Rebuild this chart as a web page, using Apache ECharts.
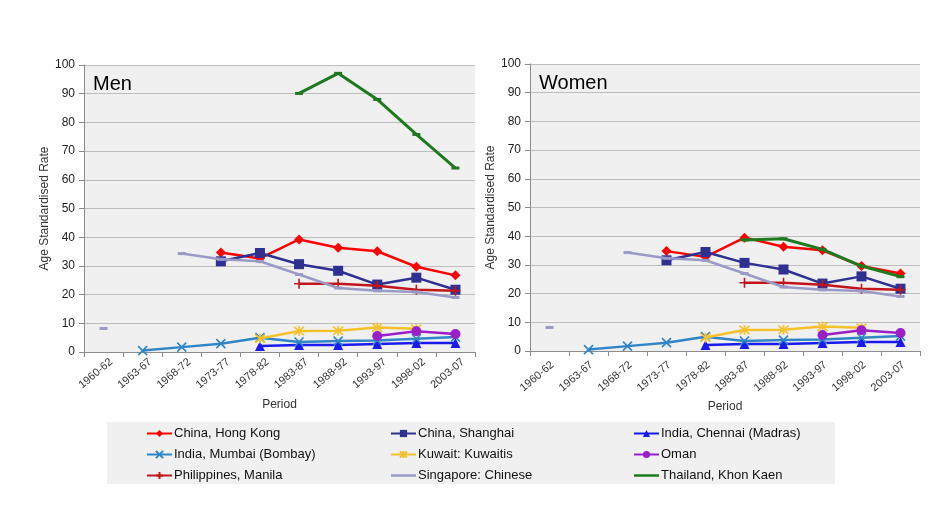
<!DOCTYPE html>
<html>
<head>
<meta charset="utf-8">
<script src="https://cdn.jsdelivr.net/npm/echarts@6/dist/echarts.min.js"></script>
<style>html,body{margin:0;padding:0;background:#fff;}#c{width:951px;height:523px;}</style>
</head>
<body>
<div id="c"></div>
<script>
var periods = ['1960-62','1963-67','1968-72','1973-77','1978-82','1983-87','1988-92','1993-97','1998-02','2003-07'];
var yTicks = [0,10,20,30,40,50,60,70,80,90,100];

// Men
var menHongKong   = [null,null,null,34.7,32.6,39.2,36.3,35.1,29.7,26.7];
var menShanghai   = [null,null,null,31.6,34.5,30.6,28.3,23.5,25.9,21.7];
var menChennai    = [null,null,null,null,2.1,2.4,2.4,2.8,3.1,3.1];
var menMumbai     = [null,0.5,1.7,2.9,5.0,3.5,3.8,4.0,4.6,5.2];
var menKuwait     = [null,null,null,null,4.7,7.3,7.4,8.5,8.1,null];
var menOman       = [null,null,null,null,null,null,null,5.6,7.2,6.3];
var menManila     = [null,null,null,null,null,23.8,23.8,23.1,21.7,21.3];
var menSingapore  = [8.2,null,34.3,32.3,31.6,27.0,22.3,21.3,20.9,19.0];
var menKhonKaen   = [null,null,null,null,null,90.1,97.1,88.0,75.8,64.1];

// Women
var womenHongKong  = [null,null,null,34.8,32.8,39.5,36.3,35.1,29.6,27.0];
var womenShanghai  = [null,null,null,31.6,34.5,30.7,28.4,23.5,26.0,21.7];
var womenChennai   = [null,null,null,null,2.1,2.4,2.4,2.8,3.1,3.1];
var womenMumbai    = [null,0.5,1.7,2.9,5.0,3.5,3.8,4.0,4.6,5.2];
var womenKuwait    = [null,null,null,null,4.7,7.3,7.4,8.5,8.1,null];
var womenOman      = [null,null,null,null,null,null,null,5.6,7.2,6.3];
var womenManila    = [null,null,null,null,null,23.8,23.8,23.1,21.7,21.3];
var womenSingapore = [8.2,null,34.3,32.3,31.6,27.0,22.3,21.3,20.9,19.0];
var womenKhonKaen  = [null,null,null,null,null,38.7,39.1,35.4,29.6,25.9];

var names = ['China, Hong Kong','China, Shanghai','India, Chennai (Madras)','India, Mumbai (Bombay)','Kuwait: Kuwaitis','Oman','Philippines, Manila','Singapore: Chinese','Thailand, Khon Kaen'];

var X = 'path://M0,0L10,10M10,0L0,10';
var STAR = 'path://M0,0L10,10M10,0L0,10M5,-1L5,11';
var PLUS = 'path://M5,0L5,10M0,5L10,5';
var LINEICON = 'path://M0,0L30,0L30,3L0,3Z';

var styles = [
  {color:'#ff0000', symbol:'diamond', size:10, stroke:false},
  {color:'#2e3192', symbol:'rect', size:10, stroke:false},
  {color:'#1a1aee', symbol:'triangle', size:10, stroke:false},
  {color:'#2f85c6', symbol:X, size:9, stroke:true},
  {color:'#f5c12a', symbol:STAR, size:10, stroke:true},
  {color:'#9b1fc8', symbol:'circle', size:10, stroke:false},
  {color:'#c0161c', symbol:PLUS, size:10, stroke:true},
  {color:'#9a9ac6', symbol:'rect', size:[8,3], stroke:false},
  {color:'#1e7a1e', symbol:'rect', size:[8,3], stroke:false}
];

var menData = [menHongKong,menShanghai,menChennai,menMumbai,menKuwait,menOman,menManila,menSingapore,menKhonKaen];
var womenData = [womenHongKong,womenShanghai,womenChennai,womenMumbai,womenKuwait,womenOman,womenManila,womenSingapore,womenKhonKaen];

function mk(idx, data, ai){
  var s = styles[idx];
  return {
    type:'line', name:names[idx], data:data, xAxisIndex:ai, yAxisIndex:ai,
    symbol:s.symbol, symbolSize:s.size, showSymbol:true, connectNulls:false,
    animation:false, z: 2+idx,
    lineStyle:{color:s.color, width: idx===8 ? 3 : 2.5},
    itemStyle:{color:s.color, borderColor:s.color, borderWidth: s.stroke ? 1.6 : 0},
    emphasis:{disabled:true}
  };
}

var series = [];
for (var i=0;i<9;i++) series.push(mk(i, menData[i], 0));
for (var j=0;j<9;j++) series.push(mk(j, womenData[j], 1));

var font = 'Liberation Sans, Arial, sans-serif';

function xAx(gi, shift){
  return {
    type:'category', gridIndex:gi, data:periods, boundaryGap:true,
    axisLine:{lineStyle:{color:'#8c8c8c'}},
    axisTick:{show:true, length:5, lineStyle:{color:'#8c8c8c'}},
    axisLabel:{rotate:40, fontSize:11, color:'#333', fontFamily:font, margin:15, interval:0,
      padding:[0,shift,0,0]},
    name:'Period', nameLocation:'middle', nameGap:47,
    nameTextStyle:{fontSize:12, color:'#333', fontFamily:font},
    splitLine:{show:false}
  };
}
function yAx(gi){
  return {
    type:'value', gridIndex:gi, min:yTicks[0], max:yTicks[yTicks.length-1], interval:10,
    axisLine:{show:true, lineStyle:{color:'#8c8c8c'}},
    axisTick:{show:true, length:5, lineStyle:{color:'#8c8c8c'}},
    axisLabel:{fontSize:12, color:'#222', fontFamily:font, margin:9},
    splitLine:{show:true, lineStyle:{color:'#bdbdbd', width:1}},
    name:'Age Standardised Rate', nameLocation:'middle', nameGap:29, nameRotate:90,
    nameTextStyle:{fontSize:12, color:'#333', fontFamily:font}
  };
}

function legItem(idx){
  if (idx === 7 || idx === 8) return {name:names[idx], icon:LINEICON};
  return {name:names[idx]};
}
function leg(items, left){
  return {
    data:items.map(legItem), orient:'vertical', left:left, top:427, itemGap:8,
    itemWidth:25, itemHeight:9, selectedMode:false, padding:0,
    textStyle:{fontSize:13, color:'#111', fontFamily:font, padding:[0,0,0,-3]}
  };
}

var option = {
  backgroundColor:'#fff',
  animation:false,
  title:[
    {text:'Men', left:88, top:69, textStyle:{fontSize:20, fontWeight:'normal', color:'#000', fontFamily:font}},
    {text:'Women', left:534, top:68, textStyle:{fontSize:20, fontWeight:'normal', color:'#000', fontFamily:font}}
  ],
  grid:[
    {left:84, width:391, top:65, height:287, show:true, backgroundColor:'#f0f0f0', borderWidth:0},
    {left:530, width:390, top:64, height:287, show:true, backgroundColor:'#f0f0f0', borderWidth:0}
  ],
  graphic:[
    {type:'rect', shape:{x:107, y:422, width:728, height:62}, style:{fill:'#f0f0f0'}, z:-10}
  ],
  xAxis:[xAx(0, -10), xAx(1, -4)],
  yAxis:[yAx(0), yAx(1)],
  legend:[
    leg([0,3,6], 146),
    leg([1,4,7], 390),
    leg([2,5,8], 633)
  ],
  series:series
};

var chart = echarts.init(document.getElementById('c'), null, {renderer:'canvas'});
chart.setOption(option);
</script>
</body>
</html>
